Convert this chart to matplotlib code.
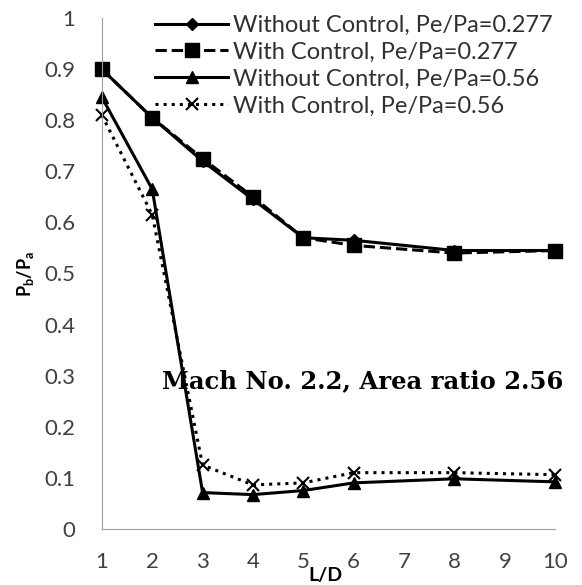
import matplotlib
matplotlib.use("Agg")
from matplotlib import pyplot

# L/D positions and base pressure ratio Pb/Pa
ld = [1, 2, 3, 4, 5, 6, 8, 10]
without_277 = [0.900, 0.805, 0.720, 0.645, 0.570, 0.565, 0.545, 0.545]
with_277 = [0.900, 0.805, 0.725, 0.650, 0.570, 0.555, 0.540, 0.545]
without_56 = [0.845, 0.665, 0.071, 0.067, 0.075, 0.090, 0.098, 0.092]
with_56 = [0.810, 0.615, 0.125, 0.086, 0.090, 0.110, 0.110, 0.106]

labels = ["Without Control, Pe/Pa=0.277", "With Control, Pe/Pa=0.277",
          "Without Control, Pe/Pa=0.56", "With Control, Pe/Pa=0.56"]

pyplot.rcParams['font.family'] = ['Lato', 'DejaVu Sans']

fig = pyplot.figure(figsize=(5.82, 5.85), dpi=100)
ax = fig.add_axes([0.175, 0.096, 0.779, 0.873])

ax.plot(ld, without_277, 'k-', marker='D', markersize=6, linewidth=2.2, label=labels[0])
ax.plot(ld, with_277, 'k--', marker='s', markersize=10, linewidth=2.2, label=labels[1])
ax.plot(ld, without_56, 'k-', marker='^', markersize=9, linewidth=2.2, label=labels[2])
ax.plot(ld, with_56, 'k:', marker='x', markersize=8, markeredgewidth=1.5, linewidth=2.2, label=labels[3])

ax.set_xlim(1, 10)
ax.set_ylim(0, 1)
ax.set_xticks(range(1, 11))
ax.set_yticks([0, 0.1, 0.2, 0.3, 0.4, 0.5, 0.6, 0.7, 0.8, 0.9, 1])
ax.set_yticklabels(['0', '0.1', '0.2', '0.3', '0.4', '0.5', '0.6', '0.7', '0.8', '0.9', '1'])
ax.tick_params(length=0, labelsize=16, colors='#404040')
ax.tick_params(axis='y', pad=19)
ax.tick_params(axis='x', pad=17)
for s in ['top', 'right']:
    ax.spines[s].set_visible(False)
for s in ['left', 'bottom']:
    ax.spines[s].set_color('#a0a0a0')
for ln in ax.lines:
    ln.set_clip_on(False)

ax.set_ylabel('P$_\\mathregular{b}$/P$_\\mathregular{a}$', fontsize=13, fontweight='bold')
ax.yaxis.set_label_coords(-0.145, 0.5)
ax.set_xlabel('L/D', fontsize=14, fontweight='bold')
ax.xaxis.set_label_coords(0.494, -0.075)

ax.text(2.2, 0.29, 'Mach No. 2.2, Area ratio 2.56', fontsize=17.5, fontweight='bold',
        family='DejaVu Serif', va='center', ha='left', clip_on=False)

ax.legend(loc='upper right', bbox_to_anchor=(1.015, 1.025), frameon=False, fontsize=17,
          handlelength=3.1, handletextpad=0.2, labelspacing=0.25, borderaxespad=0,
          labelcolor='#303030')

fig.savefig('out.png', dpi=100)
